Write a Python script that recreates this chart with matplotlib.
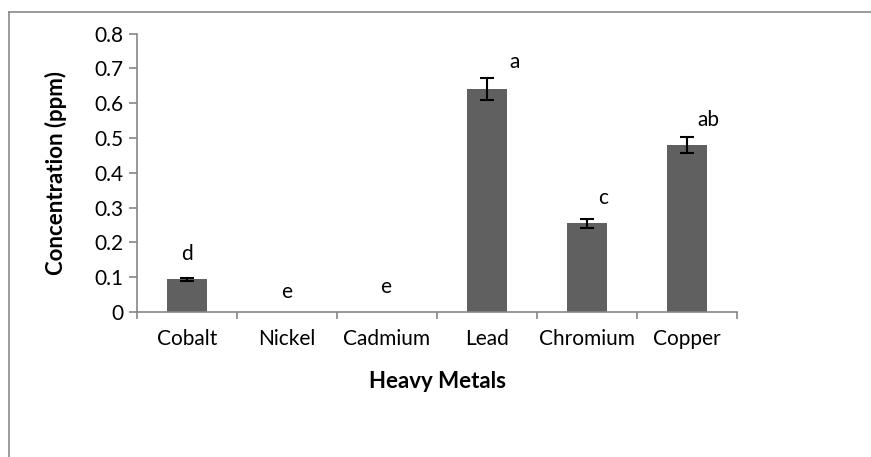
import matplotlib
matplotlib.use("Agg")
import matplotlib.pyplot as plt
from matplotlib.lines import Line2D
import numpy as np

metals = ["Cobalt", "Nickel", "Cadmium", "Lead", "Chromium", "Copper"]
conc = [0.094, 0.0, 0.0, 0.642, 0.255, 0.480]
err = [0.005, 0.0, 0.0, 0.032, 0.013, 0.024]
letters = ["d", "e", "e", "a", "c", "ab"]
letter_dx = [0.0, 0.0, -0.01, 0.28, 0.16, 0.21]
letter_y = [0.167, 0.058, 0.072, 0.719, 0.328, 0.552]
yticks = [0, 0.1, 0.2, 0.3, 0.4, 0.5, 0.6, 0.7, 0.8]

plt.rcParams['font.family'] = ['Lato', 'DejaVu Sans']
FS = 15

fig = plt.figure(figsize=(8.71, 4.57), dpi=100)
ax = fig.add_axes([137/871, 1 - 312/457, 600/871, (312 - 33.7)/457])

x = np.arange(len(metals))
ax.bar(x, conc, width=0.4, color="#606060", linewidth=0, zorder=2)
c = np.array(conc)
e = np.array(err)
m = e > 0
ax.errorbar(x[m], c[m], yerr=e[m], fmt="none", ecolor="black", elinewidth=1.5,
            capsize=5, capthick=1.5, zorder=3)
for xi, dx, ly, lt in zip(x, letter_dx, letter_y, letters):
    ax.text(xi + dx, ly, lt, ha="center", va="center", fontsize=FS)

ax.set_xlim(-0.5, len(metals) - 0.5)
ax.set_ylim(0, 0.8)
ax.set_yticks(yticks)
ax.set_yticklabels([("%g" % v) for v in yticks], fontsize=FS)
ax.set_xticks([i - 0.5 for i in range(len(metals) + 1)])
ax.set_xticklabels([])
ax.set_xticks(x, minor=True)
ax.set_xticklabels(metals, minor=True, fontsize=FS)
ax.tick_params(axis="x", which="minor", length=0, pad=12)
ax.tick_params(axis="x", which="major", length=5, width=1.2, color="#868686", direction="out")
ax.tick_params(axis="y", length=6, width=1.2, color="#868686", direction="out", pad=4)

for s in ["top", "right"]:
    ax.spines[s].set_visible(False)
for s in ["left", "bottom"]:
    ax.spines[s].set_color("#868686")
    ax.spines[s].set_linewidth(1.2)

fig.text(437/871, 1 - 382/457, "Heavy Metals", ha="center", va="center",
         fontsize=16, fontweight="bold")
fig.text(56/871, 1 - 173/457, "Concentration (ppm)", ha="center", va="center",
         rotation=90, fontsize=16, fontweight="bold")

fig.add_artist(Line2D([9/871, 9/871], [0, 1 - 11.5/457], transform=fig.transFigure,
                      color="#8a8a8a", linewidth=1.2))
fig.add_artist(Line2D([9/871, 1], [1 - 11.5/457, 1 - 11.5/457], transform=fig.transFigure,
                      color="#8a8a8a", linewidth=1.2))

fig.savefig("out.png", dpi=100, facecolor="white")
